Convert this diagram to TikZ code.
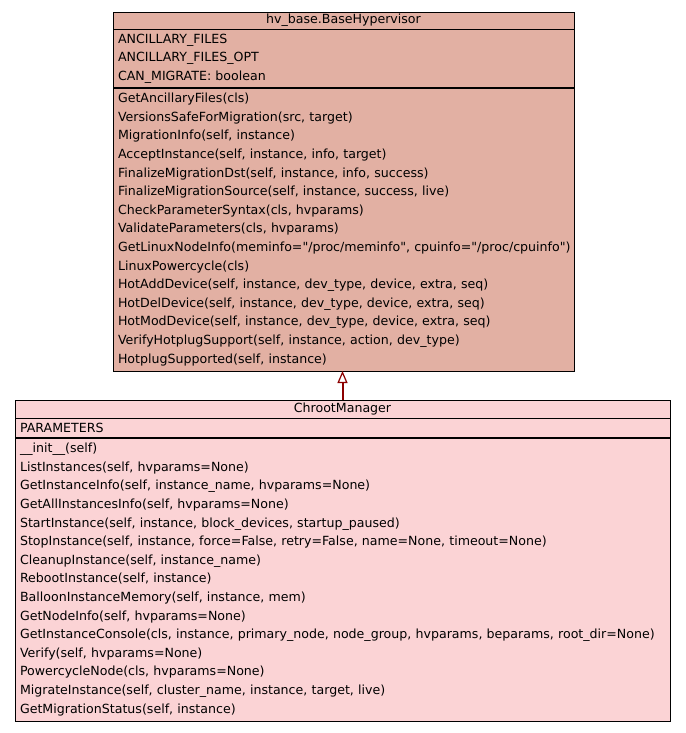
\documentclass[tikz,border=0pt]{standalone}
\usepackage{fontspec}
\setmainfont{DejaVu Sans}
\usepackage{xcolor}
\usetikzlibrary{arrows.meta,positioning}
\definecolor{basefill}{RGB}{226,176,163}
\definecolor{chrootfill}{RGB}{251,211,213}
\definecolor{inherit}{RGB}{140,0,0}

\begin{document}
\begin{tikzpicture}[
    x=1pt, y=-1pt,
    node distance=0pt,
    comp/.style={draw=black, line width=0.9pt, inner ysep=0pt, inner xsep=5pt, outer sep=0pt, align=left, font=\fontsize{12.6}{18.6}\selectfont},
    basebox/.style={comp, fill=basefill, text width=451pt, minimum width=461pt},
    chrootbox/.style={comp, fill=chrootfill, text width=645pt, minimum width=655pt},
    sep/.style={draw=black, line width=1.7pt}
]
\useasboundingbox (0,0) rectangle (685,733);

\node[basebox, align=center, minimum height=17pt] (baseHead) at (343.5,20.5) {hv\_base.BaseHypervisor};
\node[basebox, minimum height=59pt, below=of baseHead] (baseAttr) {ANCILLARY\_FILES\\ANCILLARY\_FILES\_OPT\\CAN\_MIGRATE: boolean};
\node[basebox, minimum height=283pt, below=of baseAttr] (baseOps) {GetAncillaryFiles(cls)\\VersionsSafeForMigration(src, target)\\MigrationInfo(self, instance)\\AcceptInstance(self, instance, info, target)\\FinalizeMigrationDst(self, instance, info, success)\\FinalizeMigrationSource(self, instance, success, live)\\CheckParameterSyntax(cls, hvparams)\\ValidateParameters(cls, hvparams)\\\makebox[\linewidth][l]{GetLinuxNodeInfo(meminfo=\textquotedbl/proc/meminfo\textquotedbl, cpuinfo=\textquotedbl/proc/cpuinfo\textquotedbl)}\\LinuxPowercycle(cls)\\HotAddDevice(self, instance, dev\_type, device, extra, seq)\\HotDelDevice(self, instance, dev\_type, device, extra, seq)\\HotModDevice(self, instance, dev\_type, device, extra, seq)\\VerifyHotplugSupport(self, instance, action, dev\_type)\\HotplugSupported(self, instance)};

\node[chrootbox, align=center, minimum height=18pt] (chrootHead) at (342.5,409) {ChrootManager};
\node[chrootbox, minimum height=20pt, below=of chrootHead] (chrootAttr) {PARAMETERS};
\node[chrootbox, minimum height=283pt, below=of chrootAttr] (chrootOps) {\_\_init\_\_(self)\\ListInstances(self, hvparams=None)\\GetInstanceInfo(self, instance\_name, hvparams=None)\\GetAllInstancesInfo(self, hvparams=None)\\StartInstance(self, instance, block\_devices, startup\_paused)\\StopInstance(self, instance, force=False, retry=False, name=None, timeout=None)\\CleanupInstance(self, instance\_name)\\RebootInstance(self, instance)\\BalloonInstanceMemory(self, instance, mem)\\GetNodeInfo(self, hvparams=None)\\GetInstanceConsole(cls, instance, primary\_node, node\_group, hvparams, beparams, root\_dir=None)\\Verify(self, hvparams=None)\\PowercycleNode(cls, hvparams=None)\\MigrateInstance(self, cluster\_name, instance, target, live)\\GetMigrationStatus(self, instance)};

\draw[sep] (baseAttr.south west) -- (baseAttr.south east);
\draw[sep] (chrootAttr.south west) -- (chrootAttr.south east);

\draw[-{Triangle[fill=white, length=12pt, width=10pt, line width=1.2pt]}, draw=inherit, line width=2pt] (chrootHead.north) -- (chrootHead.north |- baseOps.south);
\end{tikzpicture}
\end{document}
